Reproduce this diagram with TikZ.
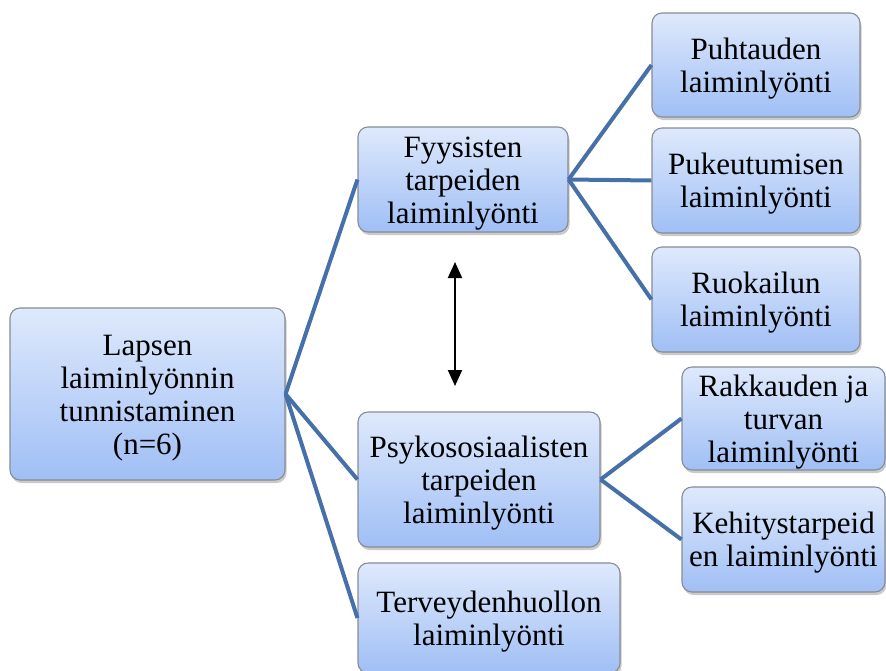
\documentclass[tikz,border=0pt]{standalone}
\usepackage{fontspec}
\setmainfont{Liberation Serif}
\newfontfamily\boxfont{Liberation Serif}
\usetikzlibrary{arrows.meta,shadows}

\definecolor{boxtop}{RGB}{222,233,252}
\definecolor{boxbot}{RGB}{160,191,245}
\definecolor{boxedge}{RGB}{135,140,150}
\definecolor{linkblue}{RGB}{70,112,168}

% box text, set a little lower than the geometric centre
\newcommand{\boxlines}[1]{\raisebox{-4pt}[\height][\depth]{\begin{tabular}{@{}c@{}}#1\end{tabular}}}

\tikzset{
  topic/.style={
    draw=boxedge, line width=1.1pt, rounded corners=10pt,
    top color=boxtop, bottom color=boxbot,
    drop shadow={shadow xshift=1.5pt, shadow yshift=-3pt, opacity=0.35, fill=black!60},
    inner sep=0pt,
    font=\boxfont\fontsize{31}{33}\selectfont
  },
  link/.style={draw=linkblue, line width=4pt},
  bothway/.style={draw=black, line width=2pt,
    {Triangle[width=14pt,length=16pt]}-{Triangle[width=14pt,length=16pt]}}
}

\begin{document}
\begin{tikzpicture}[x=1pt,y=-1pt]
  \useasboundingbox (0,0) rectangle (886,670);
  \clip (0,0) rectangle (886,670);

  % root of the tree
  \node[topic, minimum width=275pt, minimum height=172pt] (root) at (147.5,394)
    {\boxlines{Lapsen\\laiminlyönnin\\tunnistaminen\\(n=6)}};

  % second level
  \node[topic, minimum width=210pt, minimum height=105pt] (fyys) at (463,179.5)
    {\boxlines{Fyysisten\\tarpeiden\\laiminlyönti}};
  \node[topic, minimum width=242pt, minimum height=135pt] (psyk) at (479,479.5)
    {\boxlines{Psykososiaalisten\\tarpeiden\\laiminlyönti}};
  \node[topic, minimum width=262pt, minimum height=110pt] (terv) at (489,618)
    {\boxlines{Terveydenhuollon\\laiminlyönti}};

  % third level, physical needs
  \node[topic, minimum width=208pt, minimum height=104pt] (puht) at (756,65)
    {\boxlines{Puhtauden\\laiminlyönti}};
  \node[topic, minimum width=208pt, minimum height=105pt] (puku) at (756,180.5)
    {\boxlines{Pukeutumisen\\laiminlyönti}};
  \node[topic, minimum width=208pt, minimum height=105pt] (ruok) at (756,299.5)
    {\boxlines{Ruokailun\\laiminlyönti}};

  % third level, psychosocial needs
  \node[topic, minimum width=203pt, minimum height=103pt] (rakk) at (783.5,418.5)
    {\boxlines{Rakkauden ja\\turvan\\laiminlyönti}};
  \node[topic, minimum width=203pt, minimum height=105pt] (kehi) at (783.5,539.5)
    {\boxlines{Kehitystarpeid\\en laiminlyönti}};

  % connectors
  \draw[link] (root.east) -- (fyys.west);
  \draw[link] (root.east) -- (psyk.west);
  \draw[link] (root.east) -- (terv.west);
  \draw[link] (fyys.east) -- (puht.west);
  \draw[link] (fyys.east) -- (puku.west);
  \draw[link] (fyys.east) -- (ruok.west);
  \draw[link] (psyk.east) -- (rakk.west);
  \draw[link] (psyk.east) -- (kehi.west);

  % two-way relation between the need groups
  \coordinate (relTop) at (455,262);
  \coordinate (relBot) at (455,386);
  \draw[bothway] (relTop) -- (relBot);
\end{tikzpicture}
\end{document}
